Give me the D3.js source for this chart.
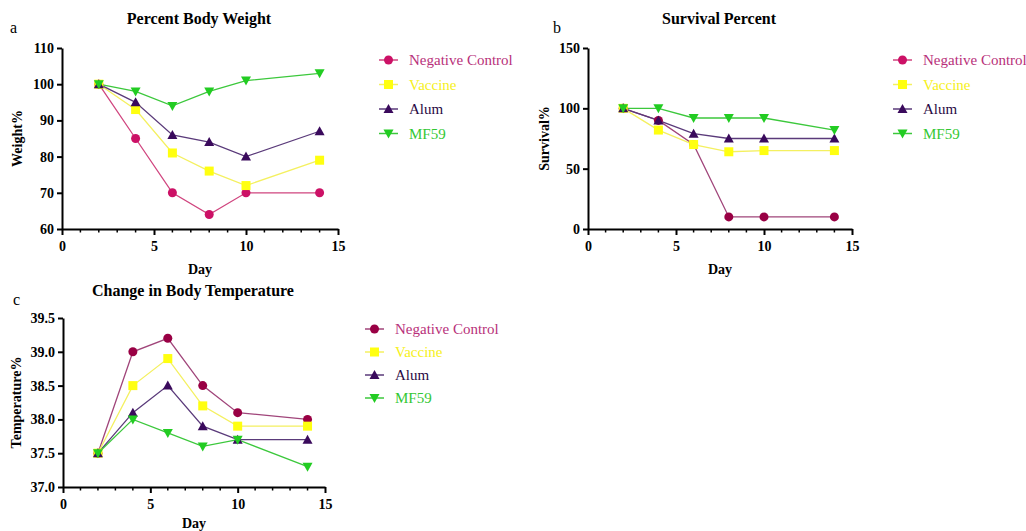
<!DOCTYPE html>
<html>
<head>
<meta charset="utf-8">
<script src="https://cdn.jsdelivr.net/npm/d3@7"></script>
<style>
  body { margin: 0; background: #fff; }
  svg text { font-family: "Liberation Serif", "Times New Roman", serif; }
</style>
</head>
<body>
<svg id="chart" width="1026" height="531"></svg>
<script>
const days = [2, 4, 6, 8, 10, 14]
const seriesNames = ["Negative Control", "Vaccine", "Alum", "MF59"]

// panel a - percent body weight
const weightNC = [100, 85, 70, 64, 70, 70]
const weightVaccine = [100, 93, 81, 76, 72, 79]
const weightAlum = [100, 95, 86, 84, 80, 87]
const weightMF59 = [100, 98, 94, 98, 101, 103]

// panel b - survival
const survivalNC = [100, 90, 70, 10, 10, 10]
const survivalVaccine = [100, 82, 70, 64, 65, 65]
const survivalAlum = [100, 90, 79, 75, 75, 75]
const survivalMF59 = [100, 100, 92, 92, 92, 82]

// panel c - temperature
const tempNC = [37.5, 39.0, 39.2, 38.5, 38.1, 38.0]
const tempVaccine = [37.5, 38.5, 38.9, 38.2, 37.9, 37.9]
const tempAlum = [37.5, 38.1, 38.5, 37.9, 37.7, 37.7]
const tempMF59 = [37.5, 38.0, 37.8, 37.6, 37.7, 37.3]

const xTicks = [0, 5, 10, 15]
const weightTicks = [60, 70, 80, 90, 100, 110]
const survivalTicks = [0, 50, 100, 150]
const tempTicks = [37.0, 37.5, 38.0, 38.5, 39.0, 39.5]

const svg = d3.select("#chart")
const SERIF = "Liberation Serif"

const styles = [
    {line: "#d0457f", fill: "#cc1166", text: "#b8307a", shape: "circle"},
    {line: "#f4f060", fill: "#ffff10", text: "#f6f020", shape: "square"},
    {line: "#5a3a7a", fill: "#3a0a5c", text: "#2a0a44", shape: "triangle"},
    {line: "#3cc83c", fill: "#22cc22", text: "#33c833", shape: "triangleDown"}
]
const darkNC = {line: "#a0457a", fill: "#990044"}

function marker(g, shape, x, y, fill) {
    if (shape === "circle") {
        g.append("circle").attr("cx", x).attr("cy", y).attr("r", 4.5).attr("fill", fill)
    } else if (shape === "square") {
        g.append("rect").attr("x", x - 4.5).attr("y", y - 4.5).attr("width", 9).attr("height", 9).attr("fill", fill)
    } else if (shape === "triangle") {
        g.append("path").attr("d", `M${x},${y - 5}L${x + 5},${y + 4}L${x - 5},${y + 4}Z`).attr("fill", fill)
    } else {
        g.append("path").attr("d", `M${x},${y + 5}L${x + 5},${y - 4}L${x - 5},${y - 4}Z`).attr("fill", fill)
    }
}

function drawPanel(opt) {
    const x = d3.scaleLinear().domain([0, 15]).range(opt.xr)
    const y = d3.scaleLinear().domain(opt.yd).range(opt.yr)
    const g = svg.append("g").attr("font-family", SERIF)

    // axes
    const xAxis = g.append("g").attr("transform", `translate(0,${opt.yr[0]})`)
        .call(d3.axisBottom(x).tickValues(xTicks).tickSize(6).tickSizeOuter(0).tickPadding(6))
    xAxis.attr("font-family", SERIF)
    xAxis.select(".domain").attr("stroke-width", 2)
    xAxis.selectAll(".tick line").attr("stroke-width", 2)
    xAxis.selectAll("text").attr("font-size", 14).attr("font-weight", "bold").attr("font-family", SERIF)
    const minor = d3.range(1, 15).filter(d => d % 5 !== 0)
    xAxis.selectAll(".minor").data(minor).enter().append("line")
        .attr("x1", d => x(d)).attr("x2", d => x(d)).attr("y1", 0).attr("y2", 3.5)
        .attr("stroke", "#000").attr("stroke-width", 1.5)

    const yAxis = g.append("g").attr("transform", `translate(${opt.xr[0]},0)`)
        .call(d3.axisLeft(y).tickValues(opt.yTicks).tickFormat(opt.fmt).tickSize(5).tickSizeOuter(0).tickPadding(3))
    yAxis.attr("font-family", SERIF)
    yAxis.select(".domain").attr("stroke-width", 2)
    yAxis.selectAll(".tick line").attr("stroke-width", 2)
    yAxis.selectAll("text").attr("font-size", 14).attr("font-weight", "bold").attr("font-family", SERIF)

    // series
    const pick = i => (i === 0 && opt.darkNC) ? Object.assign({}, styles[i], darkNC) : styles[i]
    opt.series.forEach((vals, i) => {
        const st = pick(i)
        const line = d3.line().x((d, j) => x(days[j])).y(d => y(d))
        g.append("path").datum(vals).attr("d", line)
            .attr("fill", "none").attr("stroke", st.line).attr("stroke-width", 1.3)
    })
    opt.series.forEach((vals, i) => {
        const st = pick(i)
        vals.forEach((v, j) => marker(g, st.shape, x(days[j]), y(v), st.fill))
    })

    // titles and labels
    g.append("text").attr("x", opt.titleX).attr("y", opt.titleY).attr("text-anchor", "middle")
        .attr("font-family", SERIF).attr("font-size", 16).attr("font-weight", "bold").text(opt.title)
    g.append("text").attr("x", opt.letter[0]).attr("y", opt.letter[1])
        .attr("font-family", SERIF).attr("font-size", 16).text(opt.letter[2])
    g.append("text").attr("x", (opt.xr[0] + opt.xr[1]) / 2).attr("y", opt.dayY).attr("text-anchor", "middle")
        .attr("font-family", SERIF).attr("font-size", 14).attr("font-weight", "bold").text("Day")
    g.append("text").attr("transform", `translate(${opt.yLabelX},${(opt.yr[0] + opt.yr[1]) / 2}) rotate(-90)`)
        .attr("text-anchor", "middle").attr("font-family", SERIF).attr("font-size", 14)
        .attr("font-weight", "bold").text(opt.yLabel)

    // legend
    seriesNames.forEach((name, i) => {
        const st = opt.legendDark ? pick(i) : styles[i]
        const ly = opt.legend[1] + i * opt.legend[2]
        const lx = opt.legend[0]
        g.append("line").attr("x1", lx).attr("x2", lx + 19).attr("y1", ly).attr("y2", ly)
            .attr("stroke", st.line).attr("stroke-width", 1.5)
        marker(g, st.shape, lx + 9.5, ly, st.fill)
        g.append("text").attr("x", lx + 30).attr("y", ly + 5).attr("font-family", SERIF).attr("font-size", 15)
            .attr("fill", styles[i].text).text(name)
    })
}

drawPanel({
    xr: [62, 338], yd: [60, 110], yr: [229, 48], yTicks: weightTicks, fmt: d3.format("d"),
    series: [weightNC, weightVaccine, weightAlum, weightMF59],
    title: "Percent Body Weight", titleX: 199, titleY: 24, letter: [10, 33, "a"],
    dayY: 274, yLabel: "Weight%", yLabelX: 22, legend: [379, 60, 24.5], darkNC: false
})

drawPanel({
    xr: [588, 852], yd: [0, 150], yr: [229, 48], yTicks: survivalTicks, fmt: d3.format("d"),
    series: [survivalNC, survivalVaccine, survivalAlum, survivalMF59],
    title: "Survival Percent", titleX: 719, titleY: 24, letter: [553, 33, "b"],
    dayY: 274, yLabel: "Survival%", yLabelX: 549, legend: [893, 60, 24.5], darkNC: true
})

drawPanel({
    xr: [63, 325], yd: [37, 39.5], yr: [487, 318], yTicks: tempTicks, fmt: d3.format(".1f"),
    series: [tempNC, tempVaccine, tempAlum, tempMF59],
    title: "Change in Body Temperature", titleX: 193, titleY: 296, letter: [13, 305, "c"],
    dayY: 528, yLabel: "Temperature%", yLabelX: 21, legend: [365, 329, 23], darkNC: true, legendDark: true
})
</script>
</body>
</html>
